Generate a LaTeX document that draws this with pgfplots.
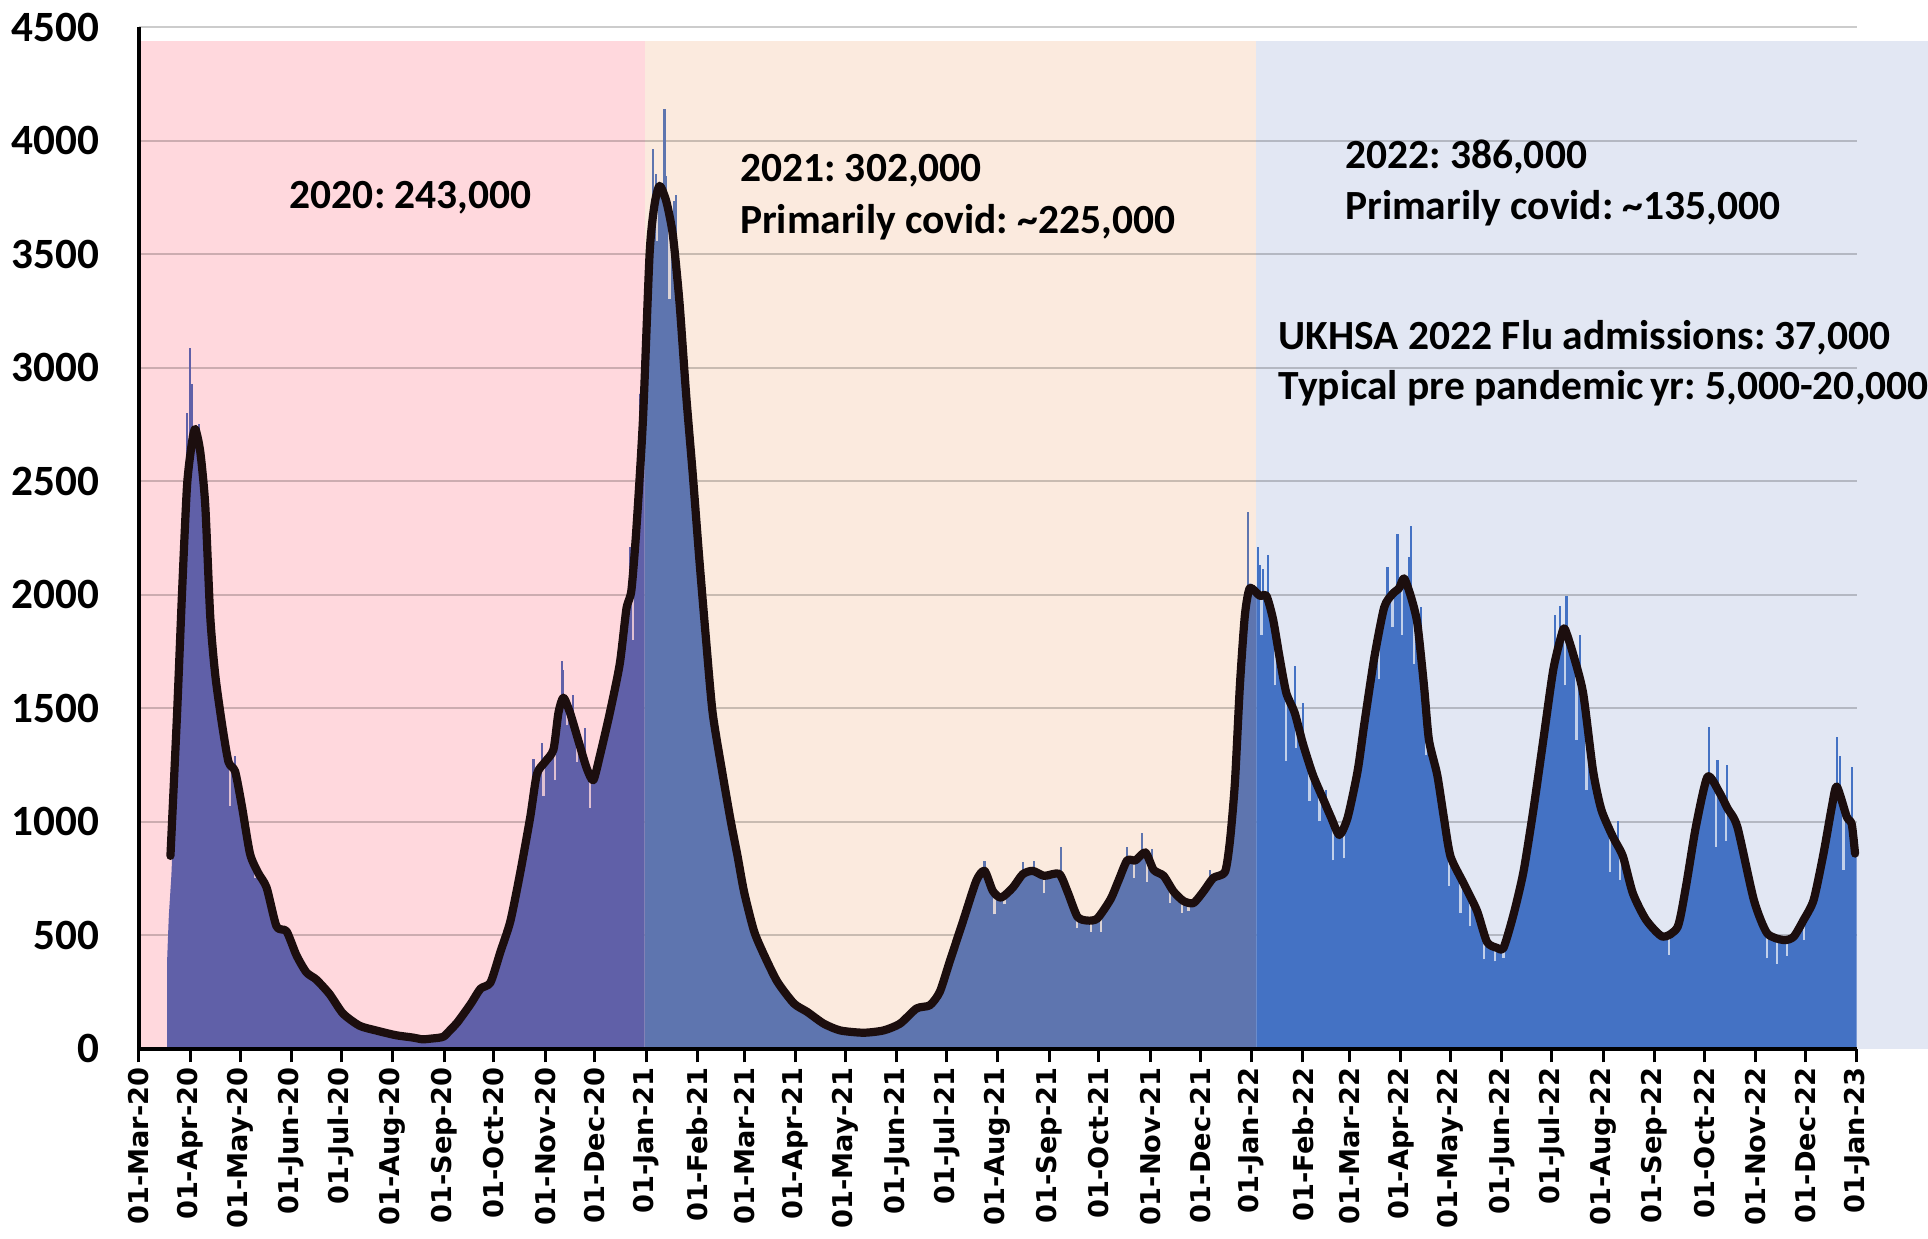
\documentclass[border=0pt]{standalone}
\usepackage{pgfplots}
\usepackage{pgfplotstable}
\pgfplotsset{compat=1.18}
\usepackage{fontspec}
\setmainfont{Carlito}
\newfontfamily\xfont{DejaVu Sans}
\frenchspacing
\definecolor{bgA}{RGB}{255,216,221}
\definecolor{bgB}{RGB}{251,234,222}
\definecolor{bgC}{RGB}{226,231,243}
\definecolor{barA}{RGB}{96,96,168}
\definecolor{barB}{RGB}{94,117,175}
\definecolor{barC}{RGB}{68,114,196}
\definecolor{linec}{RGB}{28,14,14}

% daily admissions, bar tops (day 0 = 01-Mar-20)
\pgfplotstableread{
x y
17 390
18 580
19 700
20 850
23 1650
26 2250
29 2600
32 2700
34 2725
37 2629
40 2394
43 1904
46 1648
50 1435
54 1264
58 1222
62 1073
67 859
72 774
77 710
83 539
89 518
95 412
101 337
107 305
115 241
123 156
133 102
143 81
155 60
165 50
171 42
176 45
181 49
184 55
188 85
192 116
200 197
206 265
212 292
218 427
224 562
230 778
236 1021
240 1210
245 1264
250 1318
253 1480
256 1547
260 1480
265 1358
270 1237
274 1183
278 1291
284 1480
290 1750
294 1980
297 2100
300 2400
303 2850
305 3200
}\barsA
\pgfplotstableread{
x y
305 3200
308 3504
311 3720
314 3801
318 3734
322 3585
326 3288
330 2883
334 2532
338 2154
342 1804
346 1480
352 1210
357 1000
361 850
365 690
371 518
377 414
385 296
395 200
403 163
413 111
423 81
437 71
449 81
459 111
469 178
477 192
483 251
489 385
497 562
505 740
510 784
515 695
520 666
527 710
533 769
539 784
546 762
555 771
560 693
566 582
572 565
578 574
586 659
591 745
596 830
601 830
607 865
612 788
618 762
624 693
630 651
636 642
642 693
648 753
655 779
658 950
661 1300
664 1750
667 2000
670 2050
674 2030
}\barsB
\pgfplotstableread{
x y
674 2030
676 1995
680 1995
684 1892
688 1721
692 1567
697 1481
702 1344
708 1207
714 1104
719 1019
724 942
729 1019
735 1224
739 1430
745 1721
751 1944
756 2003
760 2029
763 2072
767 1995
771 1875
775 1601
778 1361
783 1207
787 1019
791 848
799 728
807 608
813 471
819 445
823 445
829 591
835 779
841 1053
847 1361
853 1670
858 1824
860 1849
865 1738
871 1567
877 1224
882 1053
889 933
895 848
901 685
909 568
919 494
928 537
933 714
939 978
946 1198
953 1132
958 1060
964 978
974 655
982 509
992 479
998 494
1004 568
1010 655
1016 861
1021 1066
1024 1155
1030 1022
1033 990
1036 860
}\barsC
% 7-day average
\pgfplotstableread{
x y
19 850
23 1478
26 2011
29 2480
32 2672
34 2730
37 2629
40 2394
43 1904
46 1648
50 1435
54 1264
58 1222
62 1073
67 859
72 774
77 710
83 539
89 518
95 412
101 337
107 305
115 241
123 156
133 102
143 81
155 60
165 50
171 42
176 45
181 49
184 55
188 85
192 116
200 197
206 265
212 292
218 427
224 562
230 778
236 1021
240 1210
245 1264
250 1318
253 1480
256 1547
260 1480
265 1358
270 1237
274 1183
278 1291
284 1480
290 1696
294 1938
297 2019
300 2289
304 2775
308 3504
311 3720
314 3801
318 3734
322 3585
326 3288
330 2883
334 2532
338 2154
342 1804
346 1480
352 1210
357 1000
361 850
365 690
371 518
377 414
385 296
395 200
403 163
413 111
423 81
437 71
449 81
459 111
469 178
477 192
483 251
489 385
497 562
505 740
510 784
515 695
520 666
527 710
533 769
539 784
546 762
555 771
560 693
566 582
572 565
578 574
586 659
591 745
596 830
601 830
607 865
612 788
618 762
624 693
630 651
636 642
642 693
648 753
655 779
658 916
661 1173
664 1601
667 1909
670 2029
676 1995
680 1995
684 1892
688 1721
692 1567
697 1481
702 1344
708 1207
714 1104
719 1019
724 942
729 1019
735 1224
739 1430
745 1721
751 1944
756 2003
760 2029
763 2072
767 1995
771 1875
775 1601
778 1361
783 1207
787 1019
791 848
799 728
807 608
813 471
819 445
823 445
829 591
835 779
841 1053
847 1361
853 1670
858 1824
860 1849
865 1738
871 1567
877 1224
882 1053
889 933
895 848
901 685
909 568
919 494
928 537
933 714
939 978
946 1198
953 1132
958 1060
964 978
974 655
982 509
992 479
998 494
1004 568
1010 655
1016 861
1021 1066
1024 1155
1030 1022
1033 990
1035 860
}\avg

\begin{document}
\begin{tikzpicture}
\begin{axis}[
  set layers,
  scale only axis, width=13.97cm, height=8.31cm,
  xmin=0, xmax=1036, ymin=0, ymax=4500,
  clip=false,
  axis lines*=left,
  axis line style={-, line width=0.8pt, black},
  ytick={0,500,...,4500},
  yticklabels={0,500,1000,1500,2000,2500,3000,3500,4000,4500},
  ytick style={draw=none},
  yticklabel style={font=\fontsize{10}{12}\selectfont\bfseries, anchor=east, xshift=-0.09cm},
  ymajorgrids, grid style={black, opacity=0.2, line width=0.5pt},
  xtick={0,31,61,92,122,153,184,214,245,275,306,337,365,396,426,457,487,518,549,579,610,640,671,702,730,761,791,822,852,883,914,944,975,1005,1036},
  xticklabels={01-Mar-20,01-Apr-20,01-May-20,01-Jun-20,01-Jul-20,01-Aug-20,01-Sep-20,01-Oct-20,01-Nov-20,01-Dec-20,01-Jan-21,01-Feb-21,01-Mar-21,01-Apr-21,01-May-21,01-Jun-21,01-Jul-21,01-Aug-21,01-Sep-21,01-Oct-21,01-Nov-21,01-Dec-21,01-Jan-22,01-Feb-22,01-Mar-22,01-Apr-22,01-May-22,01-Jun-22,01-Jul-22,01-Aug-22,01-Sep-22,01-Oct-22,01-Nov-22,01-Dec-22,01-Jan-23},
  xtick style={black, line width=0.7pt},
  tick align=outside,
  major tick length=0.11cm,
  xticklabel style={font=\xfont\bfseries\fontsize{6.3}{7}\selectfont, rotate=90, anchor=east, inner sep=1pt},
]
\begin{pgfonlayer}{axis background}
  \fill[bgA] (axis cs:0,0) rectangle (axis cs:305,4440);
  \fill[bgB] (axis cs:305,0) rectangle (axis cs:674,4440);
  \fill[bgC] (axis cs:674,0) rectangle (axis cs:1079,4440);
\end{pgfonlayer}

\addplot[fill=barA, draw=none, smooth, tension=0.4] table {\barsA} \closedcycle;
\addplot[fill=barB, draw=none, smooth, tension=0.4] table {\barsB} \closedcycle;
\addplot[fill=barC, draw=none, smooth, tension=0.4] table {\barsC} \closedcycle;

% tall single days
\addplot[ycomb, draw=barA, line width=0.5pt, mark=none] coordinates {
(29,2800) (31,3087) (32,2930) (36,2750) (54,1300) (58,1290) (238,1277) (243,1345) (255,1709) (256,1669) (262,1560) (269,1412) (296,2208) (302,2883)};
\addplot[ycomb, draw=barB, line width=0.5pt, mark=none] coordinates {
(310,3963) (312,3855) (317,4139) (318,3842) (323,3734) (324,3761) (510,828) (533,821) (540,828) (556,890) (596,890) (605,950) (611,882) (646,788) (669,2363)};
\addplot[ycomb, draw=barC, line width=0.5pt, mark=none] coordinates {
(675,2209) (676,2132) (678,2115) (681,2175) (687,1772) (697,1687) (702,1524) (716,1139) (739,1515) (745,1789) (753,2123) (759,2269) (766,2166) (767,2303) (773,1944) (854,1909) (857,1952) (861,1995) (869,1824) (882,1122) (892,1002) (947,1419) (952,1272) (958,1250) (1024,1375) (1026,1290) (1033,1243)};

% low single days (gaps between bars)
\addplot[draw=bgA!80!barA, line width=0.5pt, unbounded coords=jump] coordinates {
(55,1070) (55,1250) (55,nan) (70,752) (70,800) (70,nan) (244,1115) (244,1264) (244,nan) (251,1183) (251,1318) (251,nan) (258,1425) (258,1500) (258,nan) (264,1264) (264,1370) (264,nan) (272,1061) (272,1200) (272,nan) (298,1800) (298,2100)};
\addplot[draw=bgB!80!barB, line width=0.5pt, unbounded coords=jump] coordinates {
(312.5,3558) (312.5,3740) (312.5,nan) (320,3302) (320,3690) (320,nan) (516,592) (516,690) (516,nan) (522,636) (522,680) (522,nan) (546,685) (546,760) (546,nan) (566,531) (566,580) (566,nan) (574,514) (574,565) (574,nan) (580,514) (580,575) (580,nan) (600,753) (600,828) (600,nan) (608,736) (608,850) (608,nan) (622,642) (622,720) (622,nan) (629,599) (629,650) (629,nan) (633,608) (633,645)};
\addplot[draw=bgC!80!barC, line width=0.5pt, unbounded coords=jump] coordinates {
(677,1824) (677,1995) (677,nan) (685,1601) (685,1850) (685,nan) (692,1267) (692,1560) (692,nan) (698,1327) (698,1460) (698,nan) (706,1093) (706,1230) (706,nan) (712,1002) (712,1120) (712,nan) (720,830) (720,1000) (720,nan) (727,839) (727,980) (727,nan) (748,1627) (748,1820) (748,nan) (756,1858) (756,2000) (756,nan) (762,1824) (762,2045) (762,nan) (769,1695) (769,1945) (769,nan) (776,1293) (776,1500) (776,nan) (790,719) (790,870) (790,nan) (797,599) (797,750) (797,nan) (803,539) (803,640) (803,nan) (811,394) (811,520) (811,nan) (818,385) (818,445) (818,nan) (823,402) (823,445) (823,nan) (860,1601) (860,1845) (860,nan) (867,1361) (867,1680) (867,nan) (873,1139) (873,1450) (873,nan) (887,779) (887,950) (887,nan) (893,745) (893,860) (893,nan) (923,413) (923,500) (923,nan) (951,890) (951,1150) (951,nan) (957,915) (957,1070) (957,nan) (982,398) (982,505) (982,nan) (988,375) (988,485) (988,nan) (994,410) (994,480) (994,nan) (1004,480) (1004,565) (1004,nan) (1028,788) (1028,1050)};

\addplot[draw=linec, line width=1.9pt, line join=round, line cap=round, mark=none, smooth, tension=0.4] table {\avg};

\begin{pgfonlayer}{axis foreground}
  \draw[black, line width=1.05pt] (axis cs:0,0) -- (axis cs:1036,0);
\end{pgfonlayer}

\begin{scope}[every node/.style={anchor=west, inner sep=0pt, font=\fontsize{9.6}{11}\selectfont\bfseries}]
\node at (axis cs:90.5,3747) {2020: 243,000};
\node at (axis cs:362,3866) {2021: 302,000};
\node at (axis cs:362,3639) {Primarily covid: \textasciitilde225,000};
\node at (axis cs:727,3926) {2022: 386,000};
\node at (axis cs:727,3704) {Primarily covid: \textasciitilde135,000};
\node at (axis cs:687,3130) {UKHSA 2022 Flu admissions: 37,000};
\node at (axis cs:687,2908) {Typical pre pandemic\hspace{1.5pt}yr: 5,000-20,000};
\end{scope}
\end{axis}
\pgfresetboundingbox
\path[use as bounding box] (-1.13,-1.54) rectangle (14.55,8.53);
\end{tikzpicture}
\end{document}
